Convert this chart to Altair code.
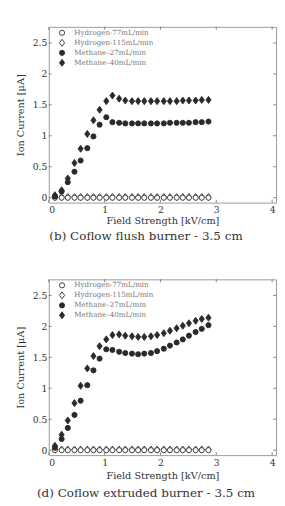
import altair as alt
import pandas as pd

series = ["Hydrogen-77mL/min", "Hydrogen-115mL/min", "Methane–27mL/min", "Methane–40mL/min"]
field = [0.11, 0.23, 0.34, 0.46, 0.57, 0.69, 0.80, 0.91, 1.03, 1.14, 1.26, 1.37, 1.49,
         1.60, 1.71, 1.83, 1.94, 2.06, 2.17, 2.29, 2.40, 2.51, 2.63, 2.74, 2.86]

# (b) Coflow flush burner
h77_b = [0.00] * 25
h115_b = [0.01] * 25
m27_b = [0.02, 0.10, 0.25, 0.42, 0.60, 0.80, 0.99, 1.18, 1.30, 1.22, 1.21, 1.20, 1.20,
         1.20, 1.20, 1.20, 1.20, 1.20, 1.21, 1.21, 1.21, 1.21, 1.22, 1.22, 1.23]
m40_b = [0.04, 0.12, 0.31, 0.56, 0.79, 1.03, 1.25, 1.42, 1.56, 1.65, 1.60, 1.57, 1.56,
         1.56, 1.56, 1.56, 1.56, 1.56, 1.56, 1.56, 1.57, 1.57, 1.57, 1.58, 1.58]

# (d) Coflow extruded burner
h77_d = [0.00] * 25
h115_d = [0.01] * 25
m27_d = [0.04, 0.18, 0.36, 0.57, 0.80, 1.05, 1.29, 1.48, 1.63, 1.62, 1.59, 1.57, 1.56,
         1.55, 1.56, 1.57, 1.60, 1.64, 1.69, 1.74, 1.79, 1.85, 1.91, 1.96, 2.02]
m40_d = [0.07, 0.25, 0.48, 0.76, 1.04, 1.32, 1.52, 1.68, 1.79, 1.86, 1.87, 1.85, 1.84,
         1.83, 1.83, 1.84, 1.86, 1.89, 1.93, 1.97, 2.01, 2.05, 2.09, 2.12, 2.14]

x_ticks = [0, 1, 2, 3, 4]
y_ticks = [0, 0.5, 1, 1.5, 2, 2.5]
captions = ["(b) Coflow flush burner - 3.5 cm", "(d) Coflow extruded burner - 3.5 cm"]

W, H = 234, 181
FONT = "DejaVu Serif"
DIAMOND = "M0,-1.37L1,0L0,1.37L-1,0Z"
INK = "#2a2a2a"
draw_order = [1, 0, 2, 3]  # open diamonds beneath open circles


def panel(vals, caption, x_title_pad, caption_offset):
    rows = []
    for i in draw_order:
        for x, y in zip(field, vals[i]):
            rows.append({"series": series[i], "field": x, "current": y})
    df = pd.DataFrame(rows)
    xs = alt.Scale(domain=[0, 4.07], nice=False, zero=False)
    ys = alt.Scale(domain=[-0.08, 2.76], nice=False, zero=False)
    ax_x = alt.Axis(values=x_ticks, title="Field Strength [kV/cm]", labelExpr="'' + datum.value",
                    labelOverlap=False, titlePadding=x_title_pad)
    ax_y = alt.Axis(values=y_ticks, title="Ion Current [μA]", labelExpr="'' + datum.value",
                    labelOverlap=False)

    legend = alt.Legend(title=None, orient="none", legendX=10, legendY=2.5, padding=0,
                        labelFont=FONT, labelFontSize=7.3, labelColor="#777",
                        labelOffset=9, rowPadding=-0.7, symbolSize=28,
                        symbolStrokeWidth=0.9)
    pts = alt.Chart(df).mark_point(filled=True, opacity=1, size=28,
                                   strokeWidth=0.9).encode(
        x=alt.X("field:Q", scale=xs, axis=ax_x),
        y=alt.Y("current:Q", scale=ys, axis=ax_y),
        shape=alt.Shape("series:N", sort=series,
                        scale=alt.Scale(domain=series, range=["circle", DIAMOND, "circle", DIAMOND]),
                        legend=legend),
        fill=alt.Fill("series:N", sort=series,
                      scale=alt.Scale(domain=series, range=["white", "white", INK, INK]),
                      legend=legend),
        stroke=alt.Stroke("series:N", sort=series,
                          scale=alt.Scale(domain=series, range=[INK, INK, INK, INK]),
                          legend=legend),
        order=alt.Order("o:Q"),
    ).transform_calculate(o="0")
    xt = pd.DataFrame({"t": x_ticks})
    yt = pd.DataFrame({"t": y_ticks})
    tick = dict(color="#666", strokeWidth=0.8)
    bot = alt.Chart(xt).mark_rule(**tick).encode(
        x=alt.X("t:Q", scale=xs, axis=ax_x), y=alt.value(H), y2=alt.value(H - 3))
    top = alt.Chart(xt).mark_rule(**tick).encode(
        x=alt.X("t:Q", scale=xs, axis=ax_x), y=alt.value(0), y2=alt.value(3))
    left = alt.Chart(yt).mark_rule(**tick).encode(
        y=alt.Y("t:Q", scale=ys, axis=ax_y), x=alt.value(0), x2=alt.value(3))
    right = alt.Chart(yt).mark_rule(**tick).encode(
        y=alt.Y("t:Q", scale=ys, axis=ax_y), x=alt.value(W), x2=alt.value(W - 3))
    return alt.layer(pts, bot, top, left, right).properties(
        width=W, height=H,
        title=alt.TitleParams(text=caption, orient="bottom", anchor="middle", frame="bounds",
                              font=FONT, fontSize=12.3, fontWeight="normal", color="#333",
                              offset=caption_offset),
    )


top_panel = panel([h77_b, h115_b, m27_b, m40_b], captions[0], 2, 4)
bottom_panel = panel([h77_d, h115_d, m27_d, m40_d], captions[1], 4, 7)

chart = alt.vconcat(top_panel, bottom_panel, spacing=37).resolve_scale(
    shape="independent", fill="independent", stroke="independent"
).resolve_legend(shape="independent", fill="independent", stroke="independent").properties(
    padding={"left": 7, "top": 11, "right": 0, "bottom": 0},
    background="white",
).configure_view(stroke="#9a9a9a", strokeWidth=1).configure_axis(
    labelFont=FONT, labelFontSize=9.5, labelColor="#333", titleFont=FONT, titleFontSize=10,
    titleColor="#333", titleFontWeight="normal", domain=False, ticks=False, grid=False,
    labelPadding=2.5,
).configure_axisY(titlePadding=7, labelPadding=2)

chart.save("out.html", embed_options={"renderer": "svg", "actions": False})
